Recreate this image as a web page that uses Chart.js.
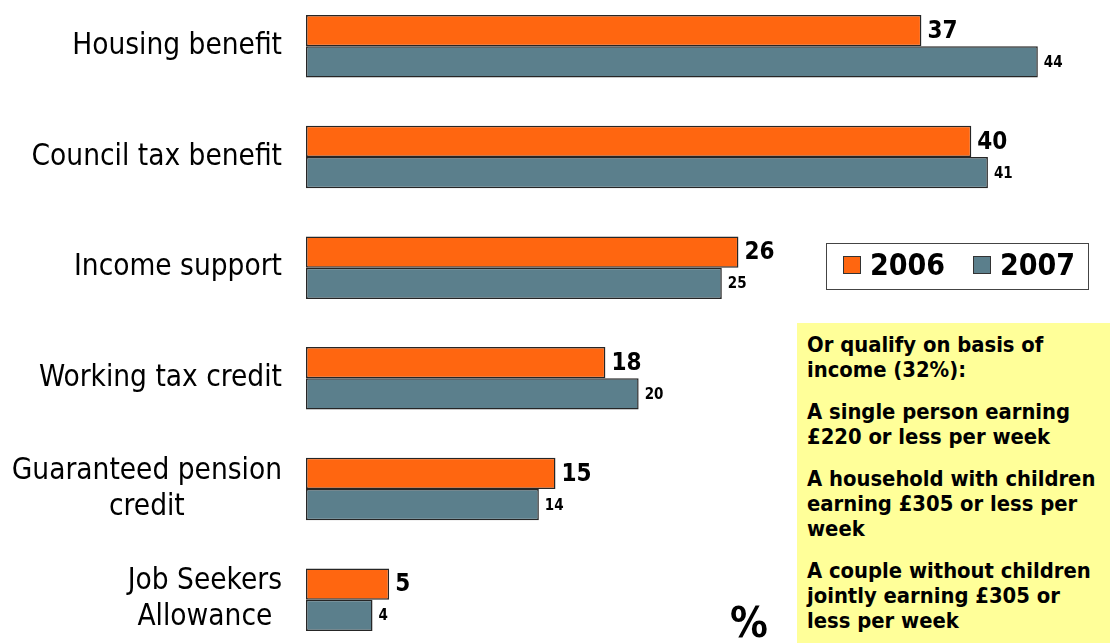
<!DOCTYPE html>
<html>
<head>
<meta charset="utf-8">
<script src="https://cdn.jsdelivr.net/npm/chart.js@4/dist/chart.umd.min.js"></script>
<style>
  html, body { margin: 0; padding: 0; background: #fff; overflow: hidden; }
  body { width: 1111px; height: 644px; position: relative; font-family: "DejaVu Sans Condensed", "DejaVu Sans", sans-serif; }
  #wrap { position: absolute; left: 0; top: -9px; width: 1111px; height: 664px; }
  #note {
    position: absolute; left: 797px; top: 323px; width: 303px; height: 311px;
    background: #ffff99; padding: 9px 0 0 10px;
    font-weight: bold; font-size: 21.8px; line-height: 25px; color: #000;
  }
  #note p { margin: 0 0 17px 0; white-space: nowrap; }
  #pct { position: absolute; left: 730px; top: 600px; font-weight: bold; font-size: 42px; line-height: 46px; }
</style>
</head>
<body>
<div id="wrap"><canvas id="chart"></canvas></div>
<div id="note">
  <p>Or qualify on basis of<br>income (32%):</p>
  <p>A single person earning<br>£220 or less per week</p>
  <p>A household with children<br>earning £305 or less per<br>week</p>
  <p>A couple without children<br>jointly earning £305 or<br>less per week</p>
</div>
<div id="pct">%</div>
<script>
const categories = [
  ['Housing benefit'],
  ['Council tax benefit'],
  ['Income support'],
  ['Working tax credit'],
  ['Guaranteed pension', 'credit'],
  ['Job Seekers', 'Allowance']
];
const values2006 = [37, 40, 26, 18, 15, 5];
const values2007 = [44, 41, 25, 20, 14, 4];
const seriesNames = ['2006', '2007'];

const FONT = '"DejaVu Sans Condensed", "DejaVu Sans", sans-serif';
const TOP_SHIFT = 9; // canvas sits 9px above the page

// category names, lines centred on each other, block right-aligned
const categoryLabels = {
  id: 'categoryLabels',
  afterDraw(chart) {
    const ctx = chart.ctx;
    const y = chart.scales.y;
    ctx.save();
    ctx.font = '29.5px ' + FONT;
    ctx.fillStyle = '#000';
    ctx.textBaseline = 'middle';
    ctx.textAlign = 'center';
    categories.forEach((lines, i) => {
      const cy = y.getPixelForValue(i);
      const w = Math.max(...lines.map(l => ctx.measureText(l).width));
      const cx = 282 - w / 2;
      const lh = 36;
      lines.forEach((l, k) => {
        ctx.fillText(l, cx, cy + (k - (lines.length - 1) / 2) * lh);
      });
    });
    ctx.restore();
  }
};

// value labels at the end of each bar
const valueLabels = {
  id: 'valueLabels',
  afterDatasetsDraw(chart) {
    const ctx = chart.ctx;
    ctx.save();
    ctx.fillStyle = '#000';
    ctx.textBaseline = 'middle';
    ctx.textAlign = 'left';
    chart.data.datasets.forEach((ds, di) => {
      const meta = chart.getDatasetMeta(di);
      ctx.font = (di === 0 ? 'bold 24px ' : 'bold 15px ') + FONT;
      meta.data.forEach((bar, i) => {
        ctx.fillText(String(ds.data[i]), bar.x + 6, bar.y + 1);
      });
    });
    ctx.restore();
  }
};

// boxed legend on the right
const boxLegend = {
  id: 'boxLegend',
  afterDraw(chart) {
    const ctx = chart.ctx;
    ctx.save();
    const bx = 826, by = 243 + TOP_SHIFT, bw = 262, bh = 46;
    ctx.fillStyle = '#fff';
    ctx.fillRect(bx, by, bw, bh);
    ctx.strokeStyle = '#444';
    ctx.lineWidth = 1;
    ctx.strokeRect(bx + 0.5, by + 0.5, bw, bh);
    const xs = [843, 973];
    ctx.font = 'bold 30px ' + FONT;
    ctx.textBaseline = 'middle';
    ctx.textAlign = 'left';
    chart.data.datasets.forEach((ds, i) => {
      ctx.fillStyle = ds.backgroundColor;
      ctx.fillRect(xs[i], by + 13, 17, 17);
      ctx.strokeStyle = '#333';
      ctx.strokeRect(xs[i] + 0.5, by + 13.5, 17, 17);
      ctx.fillStyle = '#000';
      ctx.fillText(ds.label, xs[i] + 27, by + 24);
    });
    ctx.restore();
  }
};

new Chart(document.getElementById('chart'), {
  type: 'bar',
  data: {
    labels: categories.map(c => c.join(' ')),
    datasets: [{
      label: seriesNames[0],
      data: values2006,
      backgroundColor: '#ff6610',
      borderColor: '#262626',
      borderWidth: 1.5,
      borderSkipped: false
    }, {
      label: seriesNames[1],
      data: values2007,
      backgroundColor: '#5b7f8c',
      borderColor: '#262626',
      borderWidth: 1.5,
      borderSkipped: false
    }]
  },
  options: {
    indexAxis: 'y',
    responsive: true,
    maintainAspectRatio: false,
    animation: false,
    layout: { padding: 0 },
    categoryPercentage: 0.565,
    barPercentage: 1.0,
    plugins: {
      legend: { display: false },
      tooltip: { enabled: false }
    },
    scales: {
      x: {
        display: false,
        min: 0,
        max: 48.4
      },
      y: {
        grid: { display: false, drawTicks: false },
        border: { display: false },
        ticks: { display: false },
        afterFit(scale) { scale.width = 306; }
      }
    }
  },
  plugins: [categoryLabels, valueLabels, boxLegend]
});
</script>
</body>
</html>
